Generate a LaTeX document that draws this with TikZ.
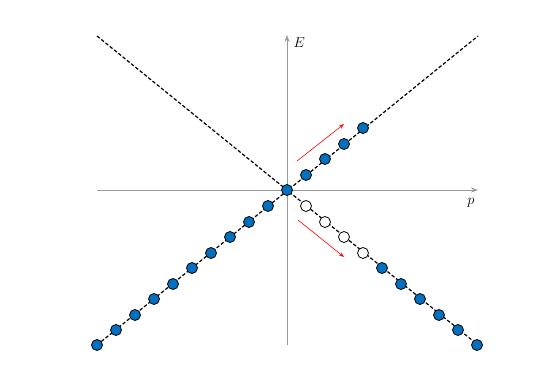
\documentclass[tikz,border=0pt]{standalone}
\usepackage{tikz}
\usetikzlibrary{arrows.meta}

\begin{document}
\begin{tikzpicture}[x=1pt, y=-1pt, font=\Large]
\tikzstyle{axis}=[draw=black!40, line width=0.9pt, -{Stealth[length=7pt, width=5pt]}]
\tikzstyle{band}=[draw=black, line width=1.2pt, dash pattern=on 3.5pt off 2pt]
\tikzstyle{dot}=[circle, draw=black, line width=0.8pt, minimum size=11pt, inner sep=0pt]
\tikzstyle{full}=[dot, fill={rgb,255:red,0;green,112;blue,192}]
\tikzstyle{empty}=[dot, fill=white]
\tikzstyle{move}=[draw=red, line width=0.6pt, -{Stealth[length=5pt, width=3.5pt]}]
\useasboundingbox (0,0) rectangle (547,382);
% axes
\coordinate (pl) at (97,190); \coordinate (pr) at (478,190);
\coordinate (eb) at (287,345); \coordinate (et) at (287,35);
\draw[axis] (pl) -- (pr);
\draw[axis] (eb) -- (et);
\node[anchor=west] (elab) at (290,43) {$E$};
\node (plab) at (471,203) {$p$};
% dispersion branches
\coordinate (tl) at (97,36); \coordinate (br) at (478,345);
\coordinate (bl) at (97,345); \coordinate (tr) at (478,36);
\draw[band] (tl) -- (br);
\draw[band] (bl) -- (tr);
% occupied states, lower left
\node[full] (o) at (287,190) {};
\node[full] (l1) at (268,206) {}; \node[full] (l2) at (249,222) {}; \node[full] (l3) at (230,237) {}; \node[full] (l4) at (211,253) {}; \node[full] (l5) at (192,268) {};
\node[full] (l6) at (173,284) {}; \node[full] (l7) at (154,299) {}; \node[full] (l8) at (135,315) {}; \node[full] (l9) at (116,330) {}; \node[full] (l10) at (97,345) {};
% upper right, excited
\node[full] (u1) at (306,175) {}; \node[full] (u2) at (325,159) {}; \node[full] (u3) at (344,144) {}; \node[full] (u4) at (363,128) {};
% lower right, holes then occupied
\node[empty] (h1) at (306,206) {}; \node[empty] (h2) at (325,222) {}; \node[empty] (h3) at (344,237) {}; \node[empty] (h4) at (363,253) {};
\node[full] (r1) at (382,268) {}; \node[full] (r2) at (401,284) {}; \node[full] (r3) at (420,299) {}; \node[full] (r4) at (439,315) {}; \node[full] (r5) at (458,330) {}; \node[full] (r6) at (477,345) {};
% shift of the distribution
\coordinate (a1) at (297,161); \coordinate (a2) at (344,124);
\coordinate (b1) at (298,220); \coordinate (b2) at (344,257);
\draw[move] (a1) -- (a2);
\draw[move] (b1) -- (b2);
\end{tikzpicture}
\end{document}
